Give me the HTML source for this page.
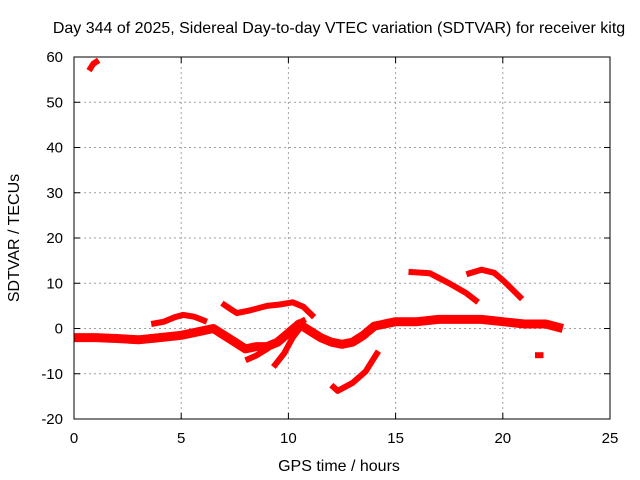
<!DOCTYPE html>
<html><head><meta charset="utf-8"><style>
html,body{margin:0;padding:0;background:#fff}
svg{display:block;font-family:"Liberation Sans",sans-serif}
</style></head><body>
<svg id="chart" width="640" height="480">
<text x="339" y="33" font-size="16" text-anchor="middle">Day 344 of 2025, Sidereal Day-to-day VTEC variation (SDTVAR) for receiver kitg</text>
<text x="339" y="471" font-size="16" text-anchor="middle">GPS time / hours</text>
<text transform="translate(19,238) rotate(-90)" font-size="16" text-anchor="middle">SDTVAR / TECUs</text>
<g id="grid"></g>
<g id="series"></g>
<rect x="74" y="57" width="536" height="362" fill="none" stroke="#000" stroke-width="1"/>
<g id="ticks"></g>
</svg>
<script>
const xTicks=[0,5,10,15,20,25];
const yTicks=[-20,-10,0,10,20,30,40,50,60];
const arcBaseline=[[0,-2],[1,-2],[2,-2.2],[3,-2.5],[4,-2],[5,-1.5],[6,-0.5],[6.5,0],[7,-1.5],[7.5,-3],[8,-4.5],[8.5,-4],[9,-4],[9.5,-3],[10,-1],[10.5,1],[11,-0.5],[11.5,-2],[12,-3],[12.5,-3.5],[13,-3],[13.5,-1.5],[14,0.5],[15,1.5],[16,1.5],[17,2],[18,2],[19,2],[20,1.5],[21,1],[22,1],[22.8,0]];
const arcMorning=[[3.6,1],[4.2,1.5],[4.7,2.5],[5.1,3],[5.6,2.6],[6.2,1.5]];
const arcMidday=[[6.9,5.6],[7.3,4.3],[7.6,3.4],[8.2,4],[9,5],[9.6,5.3],[10.2,5.8],[10.7,4.8],[11.2,2.5]];
const arcRiseA=[[8,-7],[8.5,-6],[9,-4.5],[9.5,-2.8],[10,-1],[10.4,1],[10.8,2]];
const arcRiseB=[[9.3,-8.5],[9.8,-5.5],[10.2,-2],[10.6,0.5]];
const arcLow=[[12,-12.5],[12.3,-13.8],[13,-12],[13.6,-9.5],[14.2,-5]];
const arcEvening1=[[15.6,12.5],[16.6,12.2],[17.5,10],[18.3,7.8],[18.85,5.8]];
const arcEvening2=[[18.3,12],[19,13],[19.6,12.3],[20,10.7],[20.9,6.5]];
const arcBlob=[[21.5,-5.9],[21.9,-5.9]];
const arcTop=[[0.7,57],[0.9,58.5],[1.15,59.3]];
const allSeries=[arcBaseline,arcMorning,arcMidday,arcRiseA,arcRiseB,arcLow,arcEvening1,arcEvening2,arcBlob,arcTop];
const seriesNames=['baseline-arc','morning-arc','midday-arc','rise-arc-a','rise-arc-b','low-arc','evening-arc-1','evening-arc-2','late-blob','top-arc'];
const seriesWidths=[9,6,6,6,6,6,6,6,6,6];
const X0=74,X1=610,Y0=419,Y1=57;
const sx=v=>X0+(v-0)/(25-0)*(X1-X0);
const sy=v=>Y0-(v+20)/(80)*(Y0-Y1);
const NS='http://www.w3.org/2000/svg';
const grid=document.getElementById('grid'),ticks=document.getElementById('ticks'),ser=document.getElementById('series');
xTicks.forEach(t=>{
 const x=sx(t);
 if(t>0&&t<25){const l=document.createElementNS(NS,'line');
 l.setAttribute('x1',x);l.setAttribute('x2',x);l.setAttribute('y1',Y1);l.setAttribute('y2',Y0);
 l.setAttribute('stroke','#a0a0a0');l.setAttribute('stroke-dasharray','2,3');
 
 grid.appendChild(l);}
 const tk=document.createElementNS(NS,'path');
 tk.setAttribute('d',`M${x},${Y0}v-6M${x},${Y1}v6`);tk.setAttribute('stroke','#000');
 
 ticks.appendChild(tk);
 const tx=document.createElementNS(NS,'text');tx.setAttribute('x',x);tx.setAttribute('y',Y0+24);
 tx.setAttribute('text-anchor','middle');tx.setAttribute('font-size','15');tx.textContent=t;
 
 ticks.appendChild(tx);
});
yTicks.forEach(t=>{
 const y=sy(t);
 if(t>-20&&t<60){const l=document.createElementNS(NS,'line');
 l.setAttribute('x1',X0);l.setAttribute('x2',X1);l.setAttribute('y1',y);l.setAttribute('y2',y);
 l.setAttribute('stroke','#a0a0a0');l.setAttribute('stroke-dasharray','2,3');
 
 grid.appendChild(l);}
 const tk=document.createElementNS(NS,'path');
 tk.setAttribute('d',`M${X0},${y}h6M${X1},${y}h-6`);tk.setAttribute('stroke','#000');
 
 ticks.appendChild(tk);
 const tx=document.createElementNS(NS,'text');tx.setAttribute('x',X0-11);tx.setAttribute('y',y+5);
 tx.setAttribute('text-anchor','end');tx.setAttribute('font-size','15');tx.textContent=t;
 
 ticks.appendChild(tx);
});
allSeries.forEach((s,i)=>{
 const p=document.createElementNS(NS,'path');
 p.setAttribute('d',s.map((d,j)=>(j?'L':'M')+sx(d[0]).toFixed(1)+','+sy(d[1]).toFixed(1)).join(''));
 p.setAttribute('fill','none');p.setAttribute('stroke','#ff0000');p.setAttribute('stroke-width',seriesWidths[i]);
 p.setAttribute('stroke-linejoin','round');
 
 
 ser.appendChild(p);
});
</script>
</body></html>
